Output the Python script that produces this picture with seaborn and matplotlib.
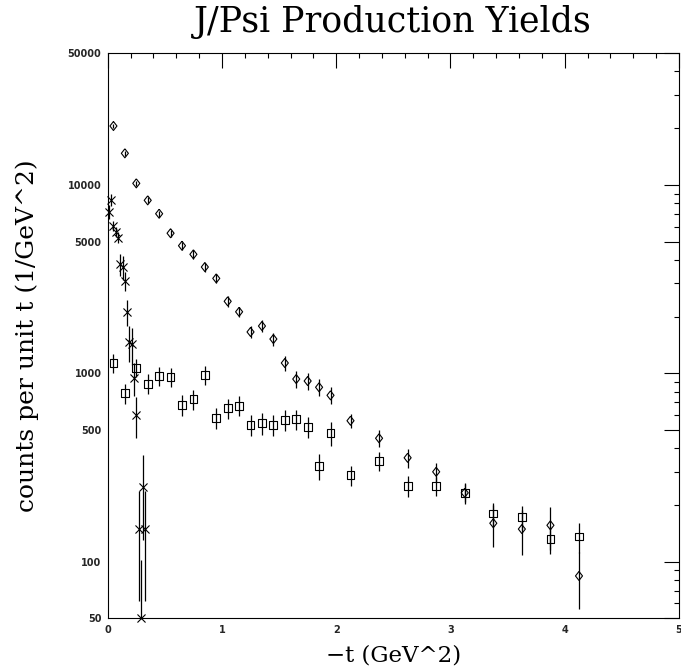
import matplotlib
matplotlib.use("Agg")
import matplotlib.pyplot as plt
import seaborn as sns
from matplotlib.ticker import FixedLocator, FuncFormatter, LogLocator, NullFormatter, MultipleLocator

# -t bin centres (GeV^2)
t_main = [0.05, 0.15, 0.25, 0.35, 0.45, 0.55, 0.65, 0.75, 0.85, 0.95,
          1.05, 1.15, 1.25, 1.35, 1.45, 1.55, 1.65, 1.75, 1.85, 1.95,
          2.125, 2.375, 2.625, 2.875, 3.125, 3.375, 3.625, 3.875, 4.125]
t_low = [0.01, 0.03, 0.05, 0.07, 0.09, 0.11, 0.13, 0.15, 0.17,
         0.19, 0.21, 0.23, 0.25, 0.27, 0.29, 0.31, 0.33]

# diamonds
diamond_y = [20540, 14710, 10190, 8280, 7030, 5540, 4755, 4280, 3665, 3190,
             2410, 2120, 1657, 1782, 1520, 1134, 932, 910, 843, 764,
             560, 452, 356, 300, 232, 160, 149, 156, 84]
diamond_err = [500, 450, 350, 300, 280, 250, 230, 220, 200, 190,
               150, 140, 120, 130, 120, 100, 95, 90, 85, 80,
               50, 45, 40, 35, 30, 40, 40, 40, 28]

# squares
square_y = [1130, 783, 1071, 881, 964, 952, 681, 729, 979, 581,
            652, 673, 532, 543, 532, 565, 572, 520, 321, 480,
            288, 342, 253, 253, 232, 180, 172, 132, 136]
square_err = [130, 95, 120, 105, 110, 110, 85, 90, 110, 75,
              80, 80, 70, 70, 70, 70, 70, 65, 50, 70,
              35, 40, 32, 30, 25, 25, 25, 22, 25]

# crosses
cross_y = [7210, 8310, 6070, 5640, 5240, 3800, 3650, 3100, 2120,
           1470, 1425, 947, 600, 150, 50, 250, 150]
cross_err = [600, 600, 350, 350, 350, 520, 520, 360, 340,
             320, 320, 190, 145, 88, 52, 120, 88]

y_major = [50, 100, 500, 1000, 5000, 10000, 50000]

sns.set_style("white")
plt.rcParams['font.family'] = ['DejaVu Sans']
plt.rcParams['font.weight'] = 'bold'

fig, ax = plt.subplots(figsize=(6.81, 6.71), dpi=100)
fig.subplots_adjust(left=0.1582, right=0.997, bottom=0.0784, top=0.9207)
ax.set_yscale('log')

# error bars
for xs, ys, es in [(t_main, diamond_y, diamond_err),
                   (t_main, square_y, square_err),
                   (t_low, cross_y, cross_err)]:
    ax.errorbar(xs, ys, yerr=es, fmt='none', ecolor='black',
                elinewidth=0.9, capsize=0)

diamond = [(0, 1), (0.78, 0), (0, -1), (-0.78, 0), (0, 1)]
sns.scatterplot(x=t_main, y=diamond_y, marker=diamond, s=6.5 ** 2,
                facecolor='none', edgecolor='black', linewidth=0.8, ax=ax)
sns.scatterplot(x=t_main, y=square_y, marker='s', s=5.6 ** 2,
                facecolor='none', edgecolor='black', linewidth=0.8, ax=ax)
sns.scatterplot(x=t_low, y=cross_y, marker='x', s=5.8 ** 2,
                color='black', linewidth=0.8, ax=ax, clip_on=False)

ax.set_xlim(0, 5)
ax.set_ylim(50, 50000)
ax.xaxis.set_major_locator(MultipleLocator(1))
ax.xaxis.set_minor_locator(MultipleLocator(0.2))
ax.xaxis.set_major_formatter(FuncFormatter(lambda v, p: f"{v:.0f}"))
ax.yaxis.set_major_locator(FixedLocator(y_major))
ax.yaxis.set_major_formatter(FuncFormatter(lambda v, p: f"{v:.0f}"))
ax.yaxis.set_minor_locator(LogLocator(base=10, subs=(2, 3, 4, 5, 6, 7, 8, 9), numticks=20))
ax.yaxis.set_minor_formatter(NullFormatter())

ax.tick_params(which='both', direction='in', top=True, right=True,
               color='black', width=0.8, labelsize=7, pad=4.5)
ax.tick_params(which='major', length=10.5)
ax.tick_params(which='minor', length=3.8)
for sp in ax.spines.values():
    sp.set_color('black')
    sp.set_linewidth(0.8)

serif = dict(family='DejaVu Serif', weight='normal', color='black')
fig.text(0.577, 0.952, "J/Psi Production Yields", size=25,
         ha='center', va='baseline', **serif)
fig.text(0.578, 0.014, "\u2212t (GeV^2)", size=16.5,
         ha='center', va='baseline', **serif)
ax.set_ylabel("counts per unit t (1/GeV^2)", size=18, **serif)
ax.yaxis.set_label_coords(-0.12, 0.5)

fig.savefig("out.png", dpi=100)
